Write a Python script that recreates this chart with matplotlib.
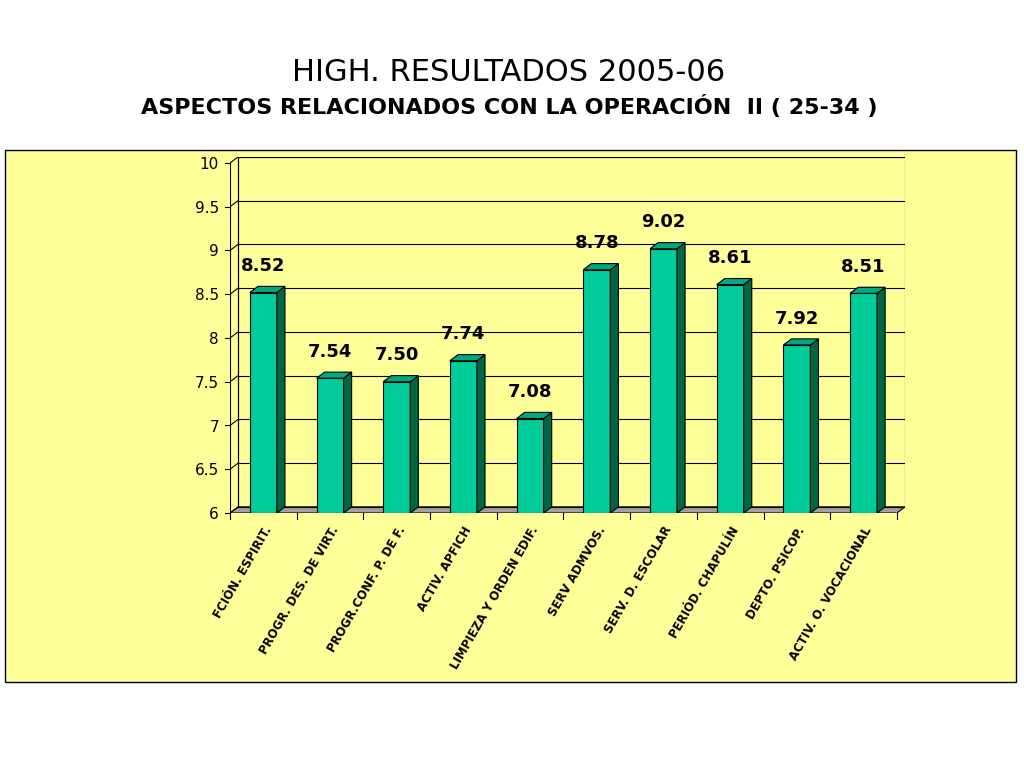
import matplotlib
matplotlib.use("Agg")
import matplotlib.pyplot as plt
from matplotlib.patches import Polygon, Rectangle

categories = ["FCIÓN. ESPIRIT.", "PROGR. DES. DE VIRT.", "PROGR.CONF. P. DE F.",
              "ACTIV. APFICH", "LIMPIEZA Y ORDEN EDIF.", "SERV ADMVOS.",
              "SERV. D. ESCOLAR", "PERIÓD. CHAPULÍN", "DEPTO. PSICOP.",
              "ACTIV. O. VOCACIONAL"]
values = [8.52, 7.54, 7.50, 7.74, 7.08, 8.78, 9.02, 8.61, 7.92, 8.51]
yticks = [6, 6.5, 7, 7.5, 8, 8.5, 9, 9.5, 10]

fig = plt.figure(figsize=(10.24, 7.68), dpi=100)
fig.patches.append(Rectangle((5/1024, 1-682/768), 1011/1024, 532/768,
                             transform=fig.transFigure, facecolor="#FFFF99",
                             edgecolor="black", lw=1, zorder=-5))
fig.text(0.497, 0.895, "HIGH. RESULTADOS 2005-06", ha="center", fontsize=22)
fig.text(0.497, 0.852, "ASPECTOS RELACIONADOS CON LA OPERACIÓN  II ( 25-34 )",
         ha="center", fontsize=16, fontweight="bold")

ax = fig.add_axes([230/1024, 1-513/768, 675/1024, 356/768])
ax.set_zorder(1)
ax.patch.set_alpha(0)
for s in ax.spines.values():
    s.set_visible(False)
ymax = 6 + 4*356/350
ax.set_xlim(0, 10)
ax.set_ylim(6, ymax)
dx, dy = 0.12, 0.07
W = 10 - dx

# back wall and grid
ax.add_patch(Polygon([(dx, 6+dy), (10, 6+dy), (10, ymax), (dx, ymax)],
                     closed=True, facecolor="#FFFF99", edgecolor="black", lw=0.8))
for t in yticks:
    ax.plot([dx, 10], [t+dy, t+dy], color="black", lw=0.8)
    ax.plot([0, dx], [t, t+dy], color="black", lw=0.8)
    ax.plot([-0.08, 0], [t, t], color="black", lw=0.8, clip_on=False)
ax.plot([0, 0], [6, 10], color="black", lw=0.8)
ax.plot([dx, dx], [6+dy, 10+dy], color="black", lw=0.8)
ax.add_patch(Polygon([(0, 6), (W, 6), (10, 6+dy), (dx, 6+dy)], closed=True,
                     facecolor="#A0A0A0", edgecolor="black", lw=0.8))
ax.set_yticks(yticks)
ax.set_yticklabels([f"{t:g}" for t in yticks], fontsize=11)
ax.tick_params(axis="y", length=0, pad=8)

ax.set_xticks([(i+0.5)*W/10 for i in range(len(categories))])
ax.set_xticklabels(categories, rotation=60, ha="right", rotation_mode="anchor",
                   fontsize=8.5, fontweight="bold")
ax.tick_params(axis="x", length=0, pad=8)
for i in range(len(categories)+1):
    ax.plot([i*W/10, i*W/10], [6, 5.93], color="black", lw=0.8, clip_on=False)

bw = 0.4
for i, v in enumerate(values):
    x0 = (i+0.5)*W/10 - bw/2
    ax.add_patch(Rectangle((x0, 6), bw, v-6, facecolor="#00CC99", edgecolor="black", lw=0.8, zorder=3))
    ax.add_patch(Polygon([(x0+bw, 6), (x0+bw+dx, 6+dy), (x0+bw+dx, v+dy), (x0+bw, v)],
                         closed=True, facecolor="#006644", edgecolor="black", lw=0.8, zorder=3))
    ax.add_patch(Polygon([(x0, v), (x0+bw, v), (x0+bw+dx, v+dy), (x0+dx, v+dy)],
                         closed=True, facecolor="#00AA80", edgecolor="black", lw=0.8, zorder=3))
    ax.text(x0+bw/2, v+0.2, f"{v:.2f}", ha="center", va="bottom",
            fontsize=13, fontweight="bold", zorder=4)

fig.savefig("out.png", dpi=100)
